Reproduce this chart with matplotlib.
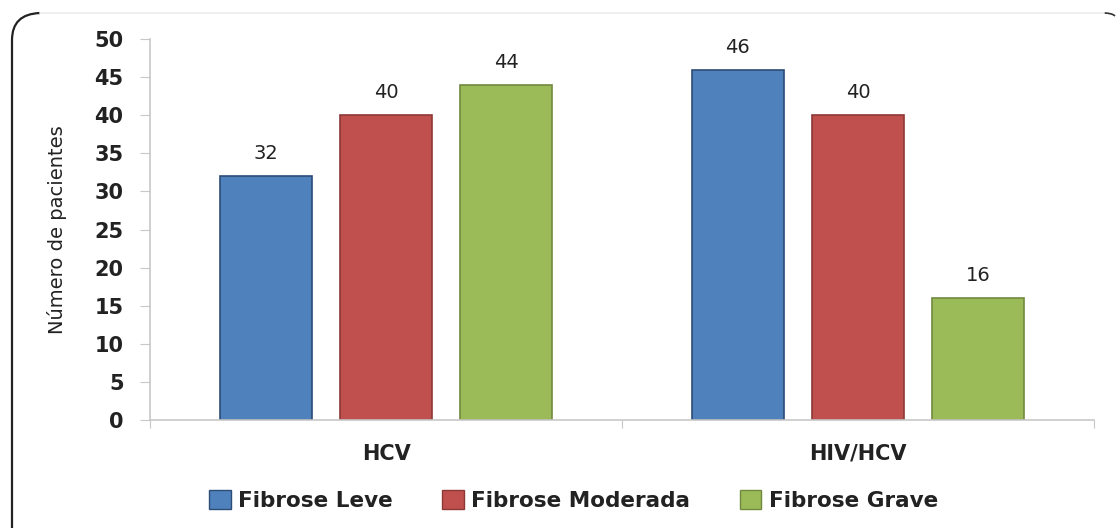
import matplotlib
matplotlib.use("Agg")
import matplotlib.pyplot as plt
import numpy as np
from matplotlib.patches import Patch, PathPatch
from matplotlib.path import Path

groups = ["HCV", "HIV/HCV"]
series = ["Fibrose Leve", "Fibrose Moderada", "Fibrose Grave"]
values = {
    "Fibrose Leve": [32, 46],
    "Fibrose Moderada": [40, 40],
    "Fibrose Grave": [44, 16],
}
colors = ["#4f81bd", "#c0504d", "#9bbb59"]
edges = ["#2c4d75", "#8c3836", "#71893f"]
yticks = [0, 5, 10, 15, 20, 25, 30, 35, 40, 45, 50]

plt.rcParams["font.family"] = ["DejaVu Sans"]

W, H = 1116, 528
fig = plt.figure(figsize=(W / 100, H / 100), dpi=100)
ax = fig.add_axes([0.1344, 0.2045, 0.846, 0.7215])


def px(x, y):
    return (x / W, 1 - y / H)


# rounded frame: faint top line, dark left side with a small corner
fig.add_artist(plt.Line2D([40 / W, 1104 / W], [1 - 13 / H] * 2, transform=fig.transFigure,
                          color="#ececec", linewidth=1.2))
verts = [px(12, 540), px(12, 40), px(12, 14), px(40, 13)]
codes = [Path.MOVETO, Path.LINETO, Path.CURVE3, Path.CURVE3]
fig.add_artist(PathPatch(Path(verts, codes), transform=fig.transFigure,
                         fill=False, edgecolor="#222222", linewidth=1.6))
fig.add_artist(PathPatch(Path([px(1104, 13), px(1112, 13), px(1115, 16)],
                              [Path.MOVETO, Path.CURVE3, Path.CURVE3]),
                         transform=fig.transFigure, fill=False, edgecolor="#333333", linewidth=1.2))

x = np.arange(len(groups))
w = 0.195
step = 0.255
for i, s in enumerate(series):
    pos = x + (i - 1) * step
    bars = ax.bar(pos, values[s], width=w, color=colors[i], edgecolor=edges[i],
                  linewidth=1.2, label=s, zorder=2)
    for b, v in zip(bars, values[s]):
        ax.text(b.get_x() + b.get_width() / 2, v + 1.7, str(v), ha="center",
                va="bottom", fontsize=14, color="#222222")

ax.set_xlim(-0.5, 1.5)
ax.set_ylim(0, 50)
ax.set_yticks(yticks)
ax.set_yticklabels([str(t) for t in yticks], fontsize=15, fontweight="bold", color="#222222")
ax.set_xticks([-0.5, 0.5, 1.5])
ax.set_xticklabels([])
ax.set_xticks(x, minor=True)
ax.set_xticklabels(groups, minor=True, fontsize=15, fontweight="bold", color="#222222")
ax.tick_params(axis="x", which="minor", length=0, pad=17)
ax.tick_params(axis="x", which="major", length=6, color="#c8c8c8", direction="out")
ax.tick_params(axis="y", length=7, color="#c8c8c8", pad=12)

for sp in ["top", "right"]:
    ax.spines[sp].set_visible(False)
for sp in ["left", "bottom"]:
    ax.spines[sp].set_color("#c8c8c8")
    ax.spines[sp].set_linewidth(1.2)

ax.set_ylabel("Número de pacientes", fontsize=14, labelpad=20, color="#222222")

handles = [Patch(facecolor=colors[i], edgecolor=edges[i], label=s) for i, s in enumerate(series)]
leg = fig.legend(handles=handles, loc="center", bbox_to_anchor=(0.514, 0.052), ncol=3,
                 frameon=False, fontsize=15.5, handlelength=1.0, handleheight=1.0,
                 columnspacing=2.3, handletextpad=0.35)
for t in leg.get_texts():
    t.set_fontweight("bold")
    t.set_color("#222222")

fig.savefig("out.png", dpi=100)
